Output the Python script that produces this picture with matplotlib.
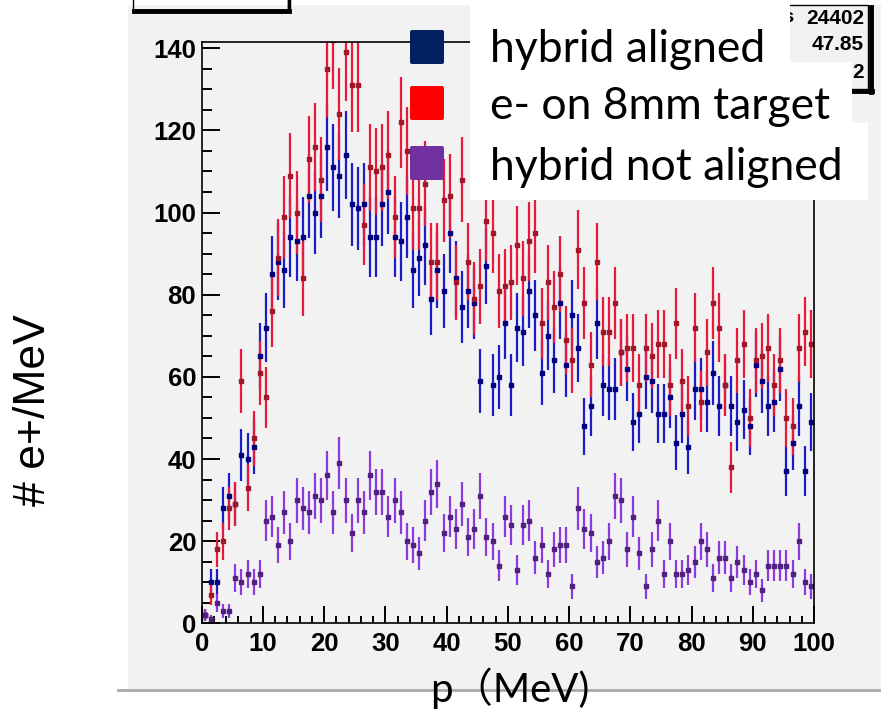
import numpy as np
import matplotlib
matplotlib.use('Agg')
import matplotlib.pyplot as plt
from matplotlib import font_manager
from matplotlib.patches import Rectangle, FancyBboxPatch
from matplotlib.ticker import MultipleLocator

# bin contents, 1 MeV bins from 0 to 100
blue = [2, 10, 10, 28, 31, 29, 41, 40, 43, 65,
        72, 85, 88, 86, 94, 93, 94, 104, 100, 104,
        116, 111, 109, 114, 102, 101, 102, 94, 94, 102,
        105, 94, 93, 99, 86, 89, 92, 79, 86, 81,
        95, 84, 77, 81, 78, 59, 87, 58, 60, 73,
        58, 72, 71, 81, 75, 61, 70, 64, 78, 63,
        75, 67, 48, 53, 73, 58, 57, 57, 66, 62,
        49, 51, 60, 59, 51, 51, 55, 44, 51, 43,
        57, 57, 54, 61, 53, 58, 53, 49, 52, 48,
        63, 59, 53, 54, 62, 37, 44, 53, 37, 49]
red = [2, 7, 18, 20, 28, 29, 59, 33, 45, 61,
       55, 76, 89, 99, 109, 100, 84, 113, 116, 108,
       135, 142, 124, 139, 131, 131, 97, 111, 110, 111,
       114, 99, 122, 115, 101, 101, 107, 88, 88, 103,
       104, 83, 108, 88, 79, 82, 98, 95, 81, 82,
       83, 92, 84, 93, 95, 73, 83, 77, 85, 69,
       64, 91, 78, 63, 88, 71, 71, 78, 66, 67,
       67, 58, 67, 65, 68, 68, 58, 73, 59, 53,
       72, 54, 66, 78, 72, 58, 38, 64, 68, 50,
       64, 65, 67, 58, 64, 50, 48, 67, 71, 68]
purple = [2, 1, 5, 3, 3, 11, 10, 12, 10, 12,
          25, 26, 19, 27, 20, 30, 28, 27, 31, 30,
          36, 27, 39, 30, 22, 30, 27, 36, 32, 32,
          26, 30, 27, 20, 19, 17, 25, 32, 34, 22,
          26, 23, 29, 21, 23, 31, 21, 20, 14, 26,
          24, 13, 24, 25, 16, 19, 12, 18, 19, 19,
          9, 28, 23, 22, 15, 16, 20, 31, 30, 18,
          26, 17, 9, 18, 25, 12, 20, 12, 12, 13,
          15, 20, 18, 11, 16, 16, 11, 15, 13, 10,
          12, 8, 14, 14, 14, 14, 12, 20, 10, 9]
bin_edges = np.arange(0, 101, 1)
legend_labels = ['hybrid aligned', 'e- on 8mm target', 'hybrid not aligned']
stats_values = ['24402', '47.85', '2']

available = {f.name for f in font_manager.fontManager.ttflist}
tick_font = 'Liberation Sans Narrow' if 'Liberation Sans Narrow' in available else 'Liberation Sans'

W, H = 881, 713
fig = plt.figure(figsize=(W / 100, H / 100), dpi=100, facecolor='white')

# canvas background (ROOT grey pad)
bg = fig.add_axes([0, 0, 1, 1], zorder=-1)
bg.set_xlim(0, W)
bg.set_ylim(H, 0)
bg.axis('off')
bg.add_patch(Rectangle((128, 5), W - 128, 685, facecolor='#f2f2f2', edgecolor='none'))
bg.plot([118, W], [690, 690], color='#a9a9a9', lw=2)

# histogram frame
x0, x1, ytop, ybot = 201.7, 814, 41.7, 623.3
ax = fig.add_axes([x0 / W, 1 - ybot / H, (x1 - x0) / W, (ybot - ytop) / H])
ax.set_facecolor('#f2f2f2')
ax.set_xlim(0, 100)
ax.set_ylim(0, 141.6)

centers = (bin_edges[:-1] + bin_edges[1:]) / 2
series = [(blue, '#1c1cc8', '#000080'),
          (red, '#e81a3a', '#a01828'),
          (purple, '#8c3ade', '#52207f')]
for vals, lc, mc in series:
    v = np.array(vals, dtype=float)
    ax.errorbar(centers, v, yerr=np.sqrt(v), fmt='s', ms=3.4, mfc=mc, mec=mc,
                ecolor=lc, elinewidth=1.6, capsize=0)

for s in ax.spines.values():
    s.set_linewidth(1.2)
    s.set_color('black')
ax.xaxis.set_major_locator(MultipleLocator(10))
ax.xaxis.set_minor_locator(MultipleLocator(2))
ax.yaxis.set_major_locator(MultipleLocator(20))
ax.yaxis.set_minor_locator(MultipleLocator(5))
ax.tick_params(axis='both', which='both', direction='in', top=False, right=False,
               width=1.4, color='black')
ax.tick_params(axis='y', which='major', length=13, pad=4)
ax.tick_params(axis='y', which='minor', length=7)
ax.tick_params(axis='x', which='major', length=12, pad=6)
ax.tick_params(axis='x', which='minor', length=5)
for lab in ax.get_xticklabels() + ax.get_yticklabels():
    lab.set_fontfamily(tick_font)
    lab.set_fontweight('bold')
    lab.set_fontsize(18.5)

# overlays: title stub, stats box, legend boxes, axis titles
fg = fig.add_axes([0, 0, 1, 1], zorder=10)
fg.set_xlim(0, W)
fg.set_ylim(H, 0)
fg.axis('off')
fg.patch.set_alpha(0)

fg.plot([133, 133, 288, 288], [0, 10, 10, 0], color='black', lw=1)
fg.plot([134, 289], [10.5, 10.5], color='black', lw=3.5)
fg.plot([289, 289], [0, 11], color='black', lw=2.5)

fg.add_patch(Rectangle((722, 5), 146, 84, facecolor='#f2f2f2', edgecolor='black', lw=1,
                       zorder=1))
fg.plot([871, 871], [7, 92], color='black', lw=3.5, zorder=1.5)
fg.plot([727, 872], [91, 91], color='black', lw=3.5, zorder=1.5)
fg.text(795, 18, 'Entries', ha='right', va='center', fontsize=14, fontweight='bold',
        family='Liberation Sans', zorder=1.6)
for yy, txt in zip([18, 45, 73], stats_values):
    fg.text(864, yy, txt, ha='right', va='center', fontsize=15, fontweight='bold',
            family=tick_font, zorder=1.6)

for (bx, by, bw, bh) in [(470, 3, 320, 59), (470, 62, 382, 61), (470, 123, 398, 77)]:
    fg.add_patch(Rectangle((bx, by), bw, bh, facecolor='white', edgecolor='none', zorder=3))

sq_colors = ['#002060', '#ff0000', '#7030a0']
sq_tops = [30, 86, 146]
for c, t in zip(sq_colors, sq_tops):
    fg.add_patch(FancyBboxPatch((410, t), 34, 34, boxstyle='round,pad=0,rounding_size=2',
                                facecolor=c, edgecolor='none', zorder=3))
for lab, yy in zip(legend_labels, [62, 119, 180]):
    fg.text(490, yy, lab, ha='left', va='baseline', fontsize=32, family='Lato',
            color='black', zorder=4)

fg.text(34, 410, '# e+/MeV', rotation=90, ha='center', va='center', fontsize=32,
        family='Liberation Sans')
fg.text(510, 688, 'p（MeV)', ha='center', va='center', fontsize=29,
        family=['Lato', 'Noto Sans CJK SC'])

fig.savefig('out.png', dpi=100, facecolor='white')
